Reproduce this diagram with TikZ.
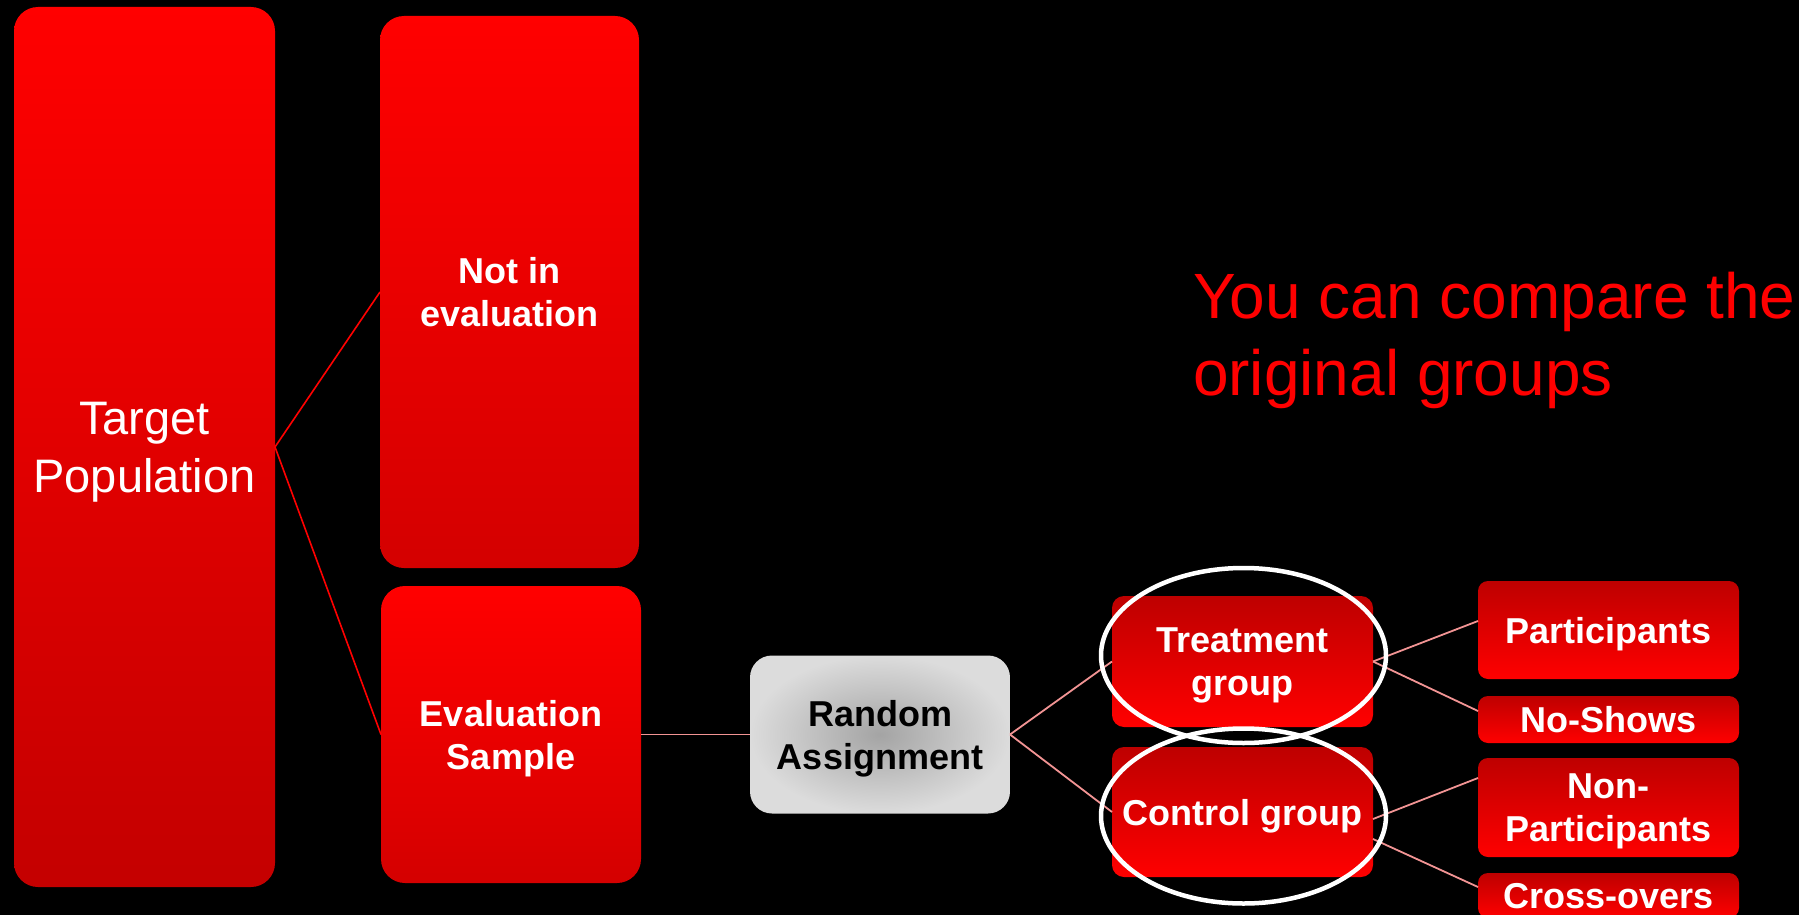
\documentclass[tikz,border=0pt]{standalone}
\usepackage{fontspec}
\setmainfont{Liberation Sans}
\definecolor{darkred}{HTML}{BE0000}
\definecolor{tpbottom}{HTML}{C40000}
\definecolor{boxbottom}{HTML}{D40000}
\definecolor{linkpink}{HTML}{F29494}
\definecolor{graymid}{HTML}{A4A4A4}
\definecolor{grayedge}{HTML}{DCDCDC}
\begin{document}
\begin{tikzpicture}[x=1pt,y=-1pt,
  every node/.style={inner sep=0pt, outer sep=0pt, align=center},
  labeltext/.style={text=white, font=\bfseries\fontsize{36}{43}\selectfont, text depth=0pt},
  tallbox/.style={labeltext, rounded corners=24pt, top color=red, bottom color=#1},
  groupbox/.style={labeltext, rounded corners=12pt, top color=darkred, bottom color=red},
  leafbox/.style={labeltext, rounded corners=10pt, top color=darkred, bottom color=red},
  redline/.style={draw=red, line width=1.6pt},
  pinkline/.style={draw=linkpink, line width=1.8pt},
  ring/.style={draw=white, line width=4.5pt}
]
\path[use as bounding box] (0,0) rectangle (1799,915);
\clip (0,0) rectangle (1799,915);
\fill[black] (0,0) rectangle (1799,915);

% left column
\node[tallbox=tpbottom, minimum width=261pt, minimum height=880pt,
      font=\fontsize{47}{58}\selectfont]
      (tp) at (144.5,447) {Target\\Population};
\node[tallbox=boxbottom, minimum width=259pt, minimum height=552pt]
      (nie) at (509.5,292) {Not in\\evaluation};
\node[tallbox=boxbottom, minimum width=260pt, minimum height=297pt]
      (es) at (511,734.5) {Evaluation\\Sample};

% assignment
\node[labeltext, text=black, rounded corners=22pt, minimum width=260pt, minimum height=158pt,
      inner color=graymid, outer color=grayedge]
      (ra) at (880,734.5) {Random\\Assignment};

% groups
\node[groupbox, minimum width=261pt, minimum height=131pt] (tg) at (1242.5,661.5) {Treatment\\group};
\node[groupbox, minimum width=261pt, minimum height=130pt] (cg) at (1242.5,812) {Control group};

% outcomes
\node[leafbox, minimum width=261pt, minimum height=98pt] (pa) at (1608.5,630) {Participants};
\node[leafbox, minimum width=261pt, minimum height=47pt] (ns) at (1608.5,719.5) {No-Shows};
\node[leafbox, minimum width=261pt, minimum height=99pt] (np) at (1608.5,807.5) {Non-\\Participants};
\node[leafbox, minimum width=261pt, minimum height=45pt] (co) at (1608.5,895.5) {Cross-overs};

% connectors
\draw[redline] (tp.east) -- (nie.west);
\draw[redline] (tp.east) -- (es.west);
\draw[pinkline] (es.east) -- (ra.west);
\draw[pinkline] (ra.east) -- (tg.west);
\draw[pinkline] (ra.east) -- (cg.west);
\draw[pinkline] (tg.east) -- ([yshift=9pt]pa.west);
\draw[pinkline] (tg.east) -- ([yshift=8.5pt]ns.west);
\draw[pinkline] ([yshift=-7pt]cg.east) -- ([yshift=29.5pt]np.west);
\draw[pinkline] ([yshift=-27pt]cg.east) -- ([yshift=8.5pt]co.west);

% highlight rings
\draw[ring] (tg.center) ++(1,-6) ellipse [x radius=142.5pt, y radius=87.5pt];
\draw[ring] (cg.center) ++(1,4) ellipse [x radius=142.5pt, y radius=87.5pt];

% remark
\node[anchor=west, align=left, text=red, text depth=0pt,
      font=\fontsize{64}{77}\selectfont] (note) at (1193,333.7)
      {You can compare the\\original groups};
\end{tikzpicture}
\end{document}
